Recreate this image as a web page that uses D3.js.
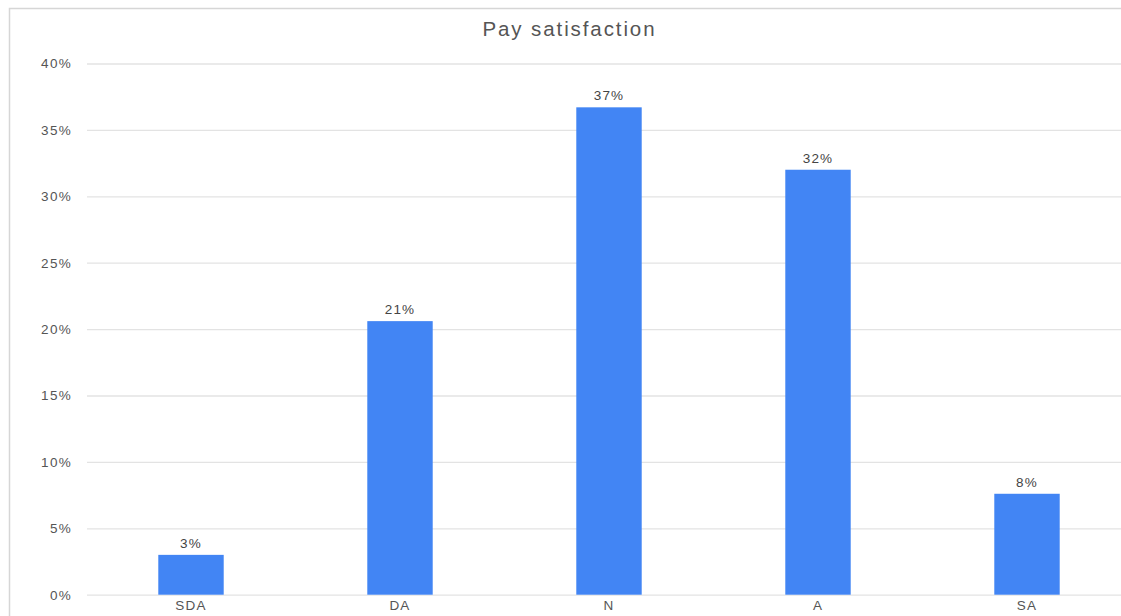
<!DOCTYPE html>
<html><head><meta charset="utf-8">
<script src="https://cdn.jsdelivr.net/npm/d3@7"></script>
<style>
html,body{margin:0;padding:0;background:#fff;overflow:hidden}
text{font-family:"Liberation Sans",Arial,sans-serif}
</style></head>
<body><svg id="c" width="1121" height="616"></svg>
<script>
const title = "Pay satisfaction";
const categories = ["SDA","DA","N","A","SA"];
const values = [0.030, 0.206, 0.367, 0.320, 0.076];
const valueLabels = ["3%","21%","37%","32%","8%"];
const yTicks = [0,0.05,0.10,0.15,0.20,0.25,0.30,0.35,0.40];

const svg = d3.select("#c");
// chart frame
svg.append("rect").attr("x",9.5).attr("y",8.5).attr("width",1200).attr("height",700)
  .attr("fill","#fff").attr("stroke","#d6d6d6").attr("stroke-width",1.5);

const x = d3.scaleBand().domain(categories).range([86.5,1131.5]).paddingInner(0.687).paddingOuter(0.3435);
const y = d3.scaleLinear().domain([0,0.40]).range([594.7,63.5]);

const gy = svg.append("g").attr("transform","translate(87,0)")
  .call(d3.axisLeft(y).tickValues(yTicks).tickFormat(d3.format(".0%")).tickSize(-1040).tickPadding(15));
gy.select(".domain").remove();
gy.selectAll(".tick line").attr("stroke","#e3e3e3").attr("stroke-width",1.3);
gy.selectAll(".tick text").attr("fill","#555").style("font-size","13.5px").style("letter-spacing","1.3px");

svg.append("g").selectAll("rect").data(values).join("rect")
  .attr("x",(d,i)=>x(categories[i])).attr("width",x.bandwidth())
  .attr("y",d=>y(d)).attr("height",d=>y(0)-y(d)).attr("fill","#4285f4");

svg.append("g").selectAll("text").data(values).join("text")
  .attr("x",(d,i)=>x(categories[i])+x.bandwidth()/2).attr("y",d=>y(d)-7)
  .attr("text-anchor","middle").attr("fill","#444").style("font-size","13.5px").style("letter-spacing","1.2px")
  .text((d,i)=>valueLabels[i]);

const gx = svg.append("g").attr("transform",`translate(0,${y(0)})`)
  .call(d3.axisBottom(x).tickSize(0).tickPadding(6));
gx.select(".domain").remove();
gx.selectAll(".tick text").attr("fill","#555").style("font-size","13.5px").style("letter-spacing","1.2px");

svg.append("text").attr("x",569.5).attr("y",36).attr("text-anchor","middle")
  .attr("fill","#555").style("font-size","20.5px").style("letter-spacing","1.9px").text(title);
</script></body></html>
